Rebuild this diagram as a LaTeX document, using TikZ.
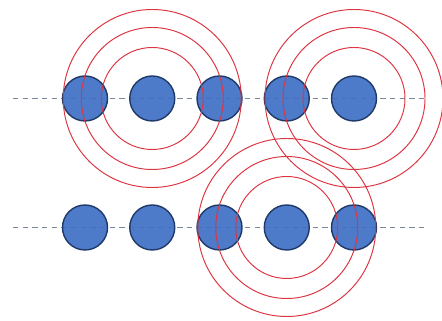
\documentclass[tikz,border=0pt]{standalone}
\usetikzlibrary{positioning}
\definecolor{ballfill}{HTML}{3F6FC6}
\definecolor{ballline}{HTML}{1F3A68}
\definecolor{wave}{HTML}{DC3440}
\definecolor{axis}{HTML}{7A8798}
\tikzset{
  ball/.style     = {circle, draw=ballline, line width=0.8pt, fill=ballfill, fill opacity=0.92,
                     draw opacity=1, inner sep=0pt, minimum size=9mm},
  ring/.style     = {draw=wave, line width=0.55pt},
  axisline/.style = {draw=axis, line width=0.5pt, dash pattern=on 3pt off 2.5pt},
}

\begin{document}
\begin{tikzpicture}
\useasboundingbox (0,0) rectangle (8.84,6.42);

% chain axes
\coordinate (tl) at (0.26,4.45);
\coordinate (tr) at (8.48,4.45);
\coordinate (bl) at (0.26,1.87);
\coordinate (br) at (8.56,1.87);
\draw[axisline] (tl) -- (tr);
\draw[axisline] (bl) -- (br);

% atoms, top and bottom rows
\foreach \i in {1,...,5} {
  \node[ball] (t\i) at ({1.70+1.345*(\i-1)},4.45) {};
  \node[ball] (b\i) at ({1.70+1.345*(\i-1)},1.87) {};
}

% wave fronts
\foreach \c in {t2,t5,b4}
  \foreach \r in {1.02,1.42,1.78}
    \draw[ring] (\c) circle[radius=\r];
\end{tikzpicture}
\end{document}
